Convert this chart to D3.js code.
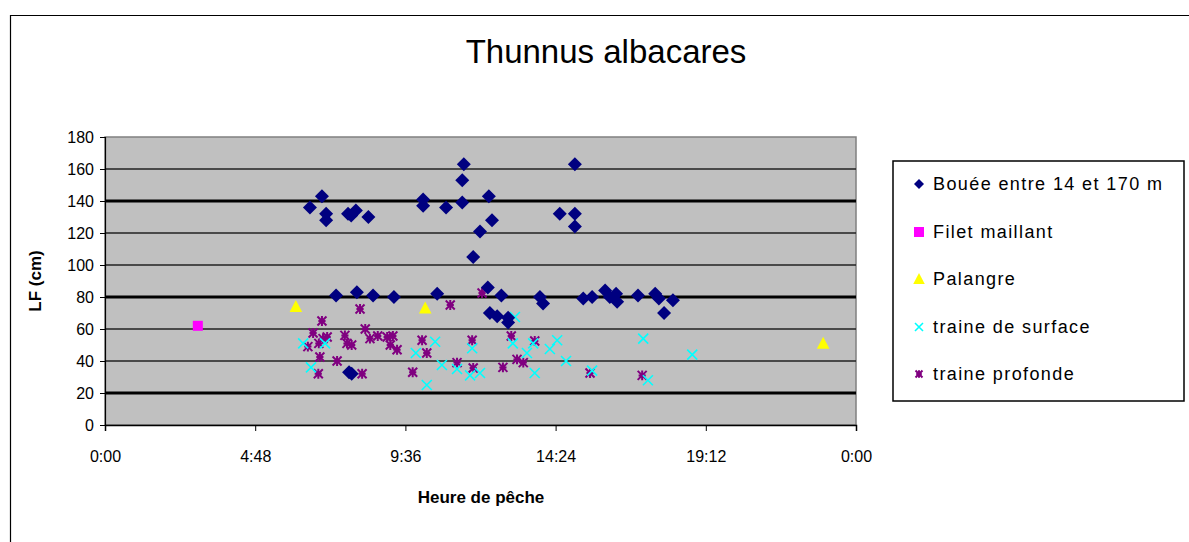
<!DOCTYPE html>
<html><head><meta charset="utf-8">
<script src="https://cdn.jsdelivr.net/npm/d3@7"></script>
<style>body{margin:0;background:#fff;} svg{display:block;} text{font-family:Arial,"Liberation Sans",sans-serif;}</style>
</head><body><div id="chart"></div>
<script>
// ---- data ----
const title = "Thunnus albacares";
const xTickHours = [0, 4.8, 9.6, 14.4, 19.2, 24];
const xTickLabels = ["0:00", "4:48", "9:36", "14:24", "19:12", "0:00"];
const yTicks = [0, 20, 40, 60, 80, 100, 120, 140, 160, 180];
const seriesNames = ["Bouée entre 14 et 170 m", "Filet maillant", "Palangre", "traine de surface", "traine profonde"];

const bouee = [
 ["6:33",136],["6:56",143],["7:04",132],["7:04",128],["7:23",81],["7:46",132],["7:52",131],["8:01",134],
 ["8:25",130],["8:03",83],["8:34",81],["9:14",80],["7:48",33],["7:53",32],["10:10",141],["10:10",137],
 ["10:37",82],["10:54",136],["11:25",139],["11:25",153],["11:28",163],["11:46",105],["11:59",121],["12:14",86],
 ["12:16",143],["12:22",128],["12:18",70],["12:32",68],["12:40",81],["12:53",67],["12:53",64],["13:54",80],
 ["14:00",76],["14:32",132],["15:01",163],["15:01",132],["15:01",124],["15:17",79],["15:34",80],["15:59",84],
 ["16:08",80],["16:20",82],["16:22",77],["17:02",81],["17:35",82],["17:42",79],["18:09",78],["17:52",70]
];
const filet = [["2:58",62]];
const palangre = [["6:06",74],["10:14",73],["22:57",51]];
const traineSurface = [
 ["6:20",51],["7:02",51],["6:35",36],["9:56",45],["10:33",52],["10:17",25],["10:46",37.5],["11:15",35],
 ["11:40",31],["11:59",32.5],["11:44",48],["13:06",67.5],["13:02",51],["13:29",45],["13:41",51],["14:13",47.5],
 ["14:27",53],["14:44",40],["13:44",32.5],["15:34",34],["17:12",54],["17:21",28],["18:46",44]
];
const traineProfonde = [
 ["8:09",72.5],["6:56",65],["6:39",57.5],["6:29",49],["6:58",54],["7:06",55],["6:50",51],["7:40",56],
 ["7:44",51],["7:53",50],["8:19",60],["8:28",54],["8:43",55.6],["9:01",55],["9:07",50],["9:20",47],
 ["9:12",55.6],["6:52",42.5],["7:25",40],["6:49",32],["8:13",32],["9:50",33],["12:03",82.5],["11:02",75],
 ["10:08",53],["10:17",45],["11:44",53],["11:15",39],["11:46",35.6],["12:59",55.6],["13:44",52.5],["13:10",41],
 ["13:22",39],["12:43",36],["15:30",32.5],["17:10",31]
];

// ---- layout ----
const W = 1189, H = 542;
const plot = {left:105, right:856, top:137, bottom:425};
const toHours = s => { const [h,m] = s.split(":").map(Number); return h + m/60; };

const svg = d3.select("#chart").append("svg").attr("width", W).attr("height", H);
svg.append("rect").attr("width", W).attr("height", H).attr("fill", "#fff");
// outer chart border
svg.append("path").attr("d", `M10.5,${H+5} L10.5,15.5 L${W+5},15.5`).attr("fill","none").attr("stroke","#000").attr("stroke-width",1.2);

const x = d3.scaleLinear().domain([0,24]).range([plot.left, plot.right]);
const y = d3.scaleLinear().domain([0,180]).range([plot.bottom, plot.top]);

// plot background
svg.append("rect").attr("x", plot.left).attr("y", plot.top)
  .attr("width", plot.right-plot.left).attr("height", plot.bottom-plot.top)
  .attr("fill", "#c0c0c0").attr("stroke", "#808080").attr("stroke-width", 1.5);

// gridlines
const thick = new Set([20,80,140]);
svg.append("g").selectAll("line").data(yTicks.filter(v => v>0 && v<180)).join("line")
  .attr("x1", plot.left).attr("x2", plot.right)
  .attr("y1", d => y(d)).attr("y2", d => y(d))
  .attr("stroke", d => thick.has(d) ? "#000" : "#222")
  .attr("stroke-width", d => thick.has(d) ? 3 : 1.6);

// axes
const yAxis = d3.axisLeft(y).tickValues(yTicks).tickSize(5).tickPadding(6);
const gy = svg.append("g").attr("transform", `translate(${plot.left},0)`).call(yAxis);
gy.select(".domain").attr("stroke","#000").attr("stroke-width",1.2);
gy.selectAll("text").attr("font-size", 16).attr("fill","#000");

const xAxis = d3.axisBottom(x).tickValues(xTickHours).tickFormat((d,i) => xTickLabels[i]).tickSize(6).tickPadding(20);
const gx = svg.append("g").attr("transform", `translate(0,${plot.bottom})`).call(xAxis);
gx.select(".domain").attr("stroke","#000").attr("stroke-width",1.5);
gx.selectAll("text").attr("font-size", 16).attr("fill","#000");

// titles
svg.append("text").attr("x", 606).attr("y", 63).attr("text-anchor","middle")
  .attr("font-size", 33).attr("fill","#000").text(title);
svg.append("text").attr("x", 481).attr("y", 503).attr("text-anchor","middle")
  .attr("font-size", 17).attr("font-weight","bold").attr("fill","#000").text("Heure de pêche");
svg.append("text").attr("transform", `translate(41,${(plot.top+plot.bottom)/2}) rotate(-90)`)
  .attr("text-anchor","middle").attr("font-size", 17).attr("font-weight","bold").attr("fill","#000").text("LF (cm)");

// marker shapes
const shapes = {
  diamond: (g, s) => g.append("path").attr("d", `M0,${-s} L${s},0 L0,${s} L${-s},0 Z`).attr("fill","#000080"),
  square: (g, s) => g.append("rect").attr("x",-s).attr("y",-s).attr("width",2*s).attr("height",2*s).attr("fill","#ff00ff"),
  triangle: (g, s) => g.append("path").attr("d", `M0,${-s*1.1} L${s*1.05},${s*0.9} L${-s*1.05},${s*0.9} Z`).attr("fill","#ffff00"),
  cross: (g, s) => g.append("path").attr("d", `M${-s},${-s} L${s},${s} M${-s},${s} L${s},${-s}`).attr("stroke","#00ffff").attr("stroke-width",1.6).attr("fill","none"),
  star: (g, s) => g.append("path").attr("d", `M${-s},${-s} L${s},${s} M${-s},${s} L${s},${-s} M0,${-s*1.1} L0,${s*1.1} M${-s*0.8},0 L${s*0.8},0`).attr("stroke","#800080").attr("stroke-width",2).attr("fill","none")
};

const series = [
  {data: traineProfonde, shape:"star", size:4.5},
  {data: traineSurface, shape:"cross", size:5},
  {data: filet, shape:"square", size:5},
  {data: palangre, shape:"triangle", size:6},
  {data: bouee, shape:"diamond", size:7}
];
series.forEach(s => {
  const g = svg.append("g");
  s.data.forEach(([t,v]) => {
    const m = g.append("g").attr("transform", `translate(${x(toHours(t))},${y(v)})`);
    shapes[s.shape](m, s.size);
  });
});

// legend
const lg = svg.append("g");
lg.append("rect").attr("x", 893).attr("y", 161).attr("width", 291).attr("height", 240)
  .attr("fill","#fff").attr("stroke","#000").attr("stroke-width",1.5);
const legShapes = ["diamond","square","triangle","cross","star"];
const legSizes = [5, 5, 5.5, 4, 3.5];
const legY = [184, 232, 279, 327, 374];
seriesNames.forEach((name,i) => {
  const m = lg.append("g").attr("transform", `translate(919,${legY[i]})`);
  shapes[legShapes[i]](m, legSizes[i]);
  lg.append("text").attr("x", 933).attr("y", legY[i]).attr("dy","0.36em")
    .attr("font-size", 18).attr("letter-spacing", 1.4).attr("fill","#000").text(name);
});
</script></body></html>
